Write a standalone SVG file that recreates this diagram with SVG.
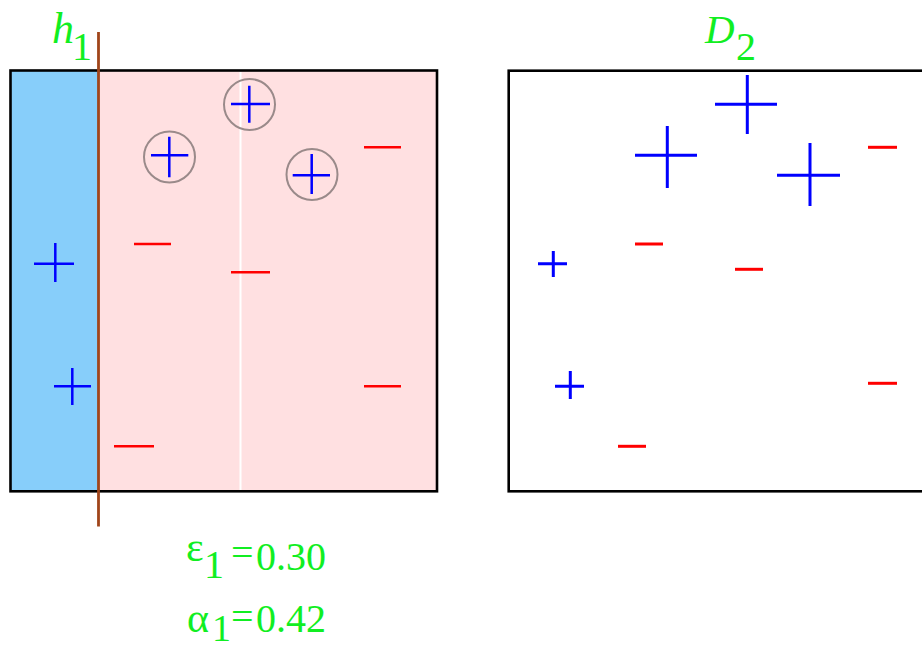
<svg xmlns="http://www.w3.org/2000/svg" width="922" height="650" viewBox="0 0 922 650">
<style>
.frame{fill:none;stroke:#000;stroke-width:2.6}
.p{stroke:#0000ff;stroke-width:2.5;fill:none}
.pb{stroke:#0000ff;stroke-width:3;fill:none}
.m{stroke:#ff0000;stroke-width:2.5}
.mb{stroke:#ff0000;stroke-width:3}
.ring{fill:none;stroke:#9a8a8a;stroke-width:2}
.t{font-family:"Liberation Serif","Times New Roman",serif;fill:#11ee22}
.it{font-style:italic}
</style>
<rect width="922" height="650" fill="#fff"/>
<g id="panel-1">
  <rect x="10.5" y="70.5" width="87.5" height="420.5" fill="#87cefa"/>
  <rect x="98" y="70.5" width="339" height="420.5" fill="#ffe0e1"/>
  <line x1="240.5" y1="72" x2="240.5" y2="490" stroke="#ffffff" stroke-width="2"/>
  <rect class="frame" x="10.5" y="70.5" width="426.5" height="420.8"/>
  <circle class="ring" cx="249.5" cy="104.5" r="25.5"/>
  <circle class="ring" cx="169.5" cy="157" r="25.5"/>
  <circle class="ring" cx="312" cy="174.5" r="25.5"/>
  <path class="p" d="M231 104H270M249.3 85.7V122.7"/>
  <path class="p" d="M151 155.3H188.3M169.3 136.7V177.3"/>
  <path class="p" d="M292.7 175.3H330M311.7 154V194"/>
  <path class="p" d="M34 263.7H74M55.3 243V282"/>
  <path class="p" d="M54 386.3H91M72.3 368V405"/>
  <line class="m" x1="364" y1="147.3" x2="401" y2="147.3"/>
  <line class="m" x1="134" y1="244" x2="171" y2="244"/>
  <line class="m" x1="231" y1="272.3" x2="270" y2="272.3"/>
  <line class="m" x1="364" y1="386.3" x2="401" y2="386.3"/>
  <line class="m" x1="114" y1="446.3" x2="154" y2="446.3"/>
  <line x1="98.5" y1="32" x2="98.5" y2="526.5" stroke="#a0451a" stroke-width="2.8"/>
</g>
<g id="panel-2">
  <rect class="frame" x="508.7" y="70.7" width="430" height="420.6"/>
  <path class="pb" d="M715 104.3H777M747.3 75V134"/>
  <path class="pb" d="M635 155.3H697M667.3 126V188"/>
  <path class="pb" d="M777 175.3H840M810 143V206"/>
  <path class="pb" d="M538 263.7H567M553.3 251V277"/>
  <path class="pb" d="M555 386.3H584M570.3 371V399"/>
  <line class="mb" x1="868" y1="147.3" x2="897" y2="147.3"/>
  <line class="mb" x1="635" y1="244" x2="663" y2="244"/>
  <line class="mb" x1="735" y1="269.3" x2="763" y2="269.3"/>
  <line class="mb" x1="868" y1="383.3" x2="897" y2="383.3"/>
  <line class="mb" x1="618" y1="446.3" x2="646" y2="446.3"/>
</g>
<g id="label-h1">
  <text class="t it" x="52" y="43" font-size="44">h</text>
  <text class="t" x="72" y="60" font-size="40">1</text>
</g>
<g id="label-D2">
  <text class="t it" x="705" y="43" font-size="41">D</text>
  <text class="t" x="736" y="60" font-size="40">2</text>
</g>
<g id="label-eps">
  <text class="t" x="186" y="561" font-size="42">ε</text>
  <text class="t" x="204" y="578" font-size="40">1</text>
  <text class="t" x="231" y="566" font-size="40">=</text>
  <text class="t" x="256" y="570" font-size="40">0.30</text>
</g>
<g id="label-alpha">
  <text class="t" x="187" y="632" font-size="42">α</text>
  <text class="t" x="212" y="641" font-size="38">1</text>
  <text class="t" x="231" y="630" font-size="40">=</text>
  <text class="t" x="256" y="632" font-size="40">0.42</text>
</g>
</svg>
